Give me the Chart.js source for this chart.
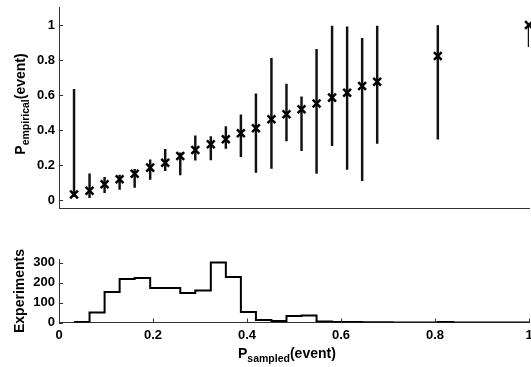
<!DOCTYPE html>
<html>
<head>
<meta charset="utf-8">
<script src="https://cdn.jsdelivr.net/npm/chart.js@4.4.1/dist/chart.umd.min.js"></script>
<style>
    body { margin: 0; background: #fff; font-family: 'Liberation Sans', Arial, sans-serif; }
    #wrap { position: relative; width: 531px; height: 367px; overflow: hidden; }
    canvas { position: absolute; left: 0; }
    #topChart { top: 0; }
    #histChart { top: 250px; }
    .axis-title { position: absolute; font-weight: bold; font-size: 14px; color: #000; white-space: nowrap; line-height: 1; }
    .axis-title sub { font-size: 10.5px; vertical-align: -4px; }
    .rot { transform-origin: center center; transform: translate(-50%, -50%) rotate(-90deg); }
</style>
</head>
<body>
<div id="wrap">
    <canvas id="topChart" width="531" height="215"></canvas>
    <canvas id="histChart" width="531" height="117"></canvas>
    <div class="axis-title rot" style="left:22px; top:104px;">P<sub>empirical</sub>(event)</div>
    <div class="axis-title rot" style="left:19px; top:291px;">Experiments</div>
    <div class="axis-title" style="left:238px; top:346px;">P<sub>sampled</sub>(event)</div>
</div>
<script>
// bin centres where points were sampled
const pointX = [0.032, 0.065, 0.097, 0.129, 0.161, 0.194, 0.226, 0.258, 0.290, 0.323, 0.355,
    0.387, 0.419, 0.452, 0.484, 0.516, 0.548, 0.581, 0.613, 0.645, 0.677, 0.806, 1.0];
const pointMean = [0.032, 0.053, 0.09, 0.118, 0.15, 0.185, 0.213, 0.251, 0.286, 0.318, 0.347,
    0.381, 0.41, 0.461, 0.49, 0.518, 0.552, 0.585, 0.613, 0.651, 0.676, 0.823, 1.0];
const pointLow = [0.02, 0.013, 0.042, 0.061, 0.072, 0.118, 0.168, 0.143, 0.227, 0.229, 0.295,
    0.248, 0.158, 0.181, 0.337, 0.282, 0.152, 0.31, 0.175, 0.11, 0.324, 0.347, 0.876];
const pointHigh = [0.632, 0.149, 0.13, 0.143, 0.175, 0.229, 0.29, 0.27, 0.366, 0.362, 0.419,
    0.486, 0.606, 0.81, 0.663, 0.59, 0.861, 0.994, 0.99, 0.924, 0.994, 0.996, 1.0];

// histogram of experiments
const histX = [0.032, 0.065, 0.097, 0.129, 0.161, 0.194, 0.226, 0.258, 0.290, 0.323, 0.355,
    0.387, 0.419, 0.452, 0.484, 0.516, 0.548, 0.581, 0.613, 0.645, 0.677, 0.710, 0.742, 0.774,
    0.806, 0.839, 0.871, 0.903, 0.935, 0.968, 1.0];
const histCount = [3, 50, 153, 217, 223, 173, 173, 147, 160, 300, 227,
    52, 12, 7, 32, 35, 5, 2, 2, 1, 1, 0, 0, 0,
    2, 0, 0, 0, 0, 0, 1];

const xTicks = [0, 0.2, 0.4, 0.6, 0.8, 1];
const topYTicks = [0, 0.2, 0.4, 0.6, 0.8, 1];
const histYTicks = [0, 100, 200, 300];

const axisColor = '#333';
const tickFont = { family: "'Liberation Sans', Arial, sans-serif", size: 13, weight: 'bold' };

Chart.defaults.color = '#000';

// MATLAB style ticks pointing into the plot
const innerTicks = {
    id: 'innerTicks',
    afterDraw(chart, args, opts) {
        const { ctx, chartArea } = chart;
        ctx.save();
        ctx.strokeStyle = axisColor;
        ctx.lineWidth = 1;
        ctx.beginPath();
        chart.scales.y.ticks.forEach(t => {
            const py = Math.round(chart.scales.y.getPixelForValue(t.value)) + 0.5;
            ctx.moveTo(chartArea.left, py);
            ctx.lineTo(chartArea.left + 4, py);
        });
        if (opts.xTicks) {
            chart.scales.x.ticks.forEach(t => {
                const px = Math.round(chart.scales.x.getPixelForValue(t.value)) + 0.5;
                ctx.moveTo(px, chartArea.bottom);
                ctx.lineTo(px, chartArea.bottom - 4);
            });
        }
        ctx.stroke();
        ctx.restore();
    }
};

function fixedTicks(list) {
    return scale => { scale.ticks = list.map(v => ({ value: v })); };
}

function noPad(s) {
    s.paddingLeft = 0;
    s.paddingRight = 0;
    s.paddingTop = 0;
    s.paddingBottom = 0;
}

const noGrid = { display: false, drawTicks: false };

new Chart(document.getElementById('topChart'), {
    type: 'scatter',
    data: {
        datasets: [
            {
                type: 'bar',
                data: pointX.map((x, i) => ({ x: x, y: [pointLow[i], pointHigh[i]] })),
                backgroundColor: '#111',
                barThickness: 1.8,
                grouped: false,
                order: 2
            },
            {
                type: 'scatter',
                data: pointX.map((x, i) => ({ x: x, y: pointMean[i] })),
                pointStyle: 'crossRot',
                pointRadius: 5.5,
                borderWidth: 2.5,
                borderColor: '#000',
                clip: 10,
                order: 1
            }
        ]
    },
    options: {
        responsive: false,
        animation: false,
        devicePixelRatio: 1,
        layout: { autoPadding: false, padding: { top: 7.5, bottom: 6.25, left: 0, right: 2 } },
        plugins: { legend: { display: false }, tooltip: { enabled: false }, innerTicks: { xTicks: false } },
        scales: {
            x: {
                type: 'linear', min: 0, max: 1, offset: false,
                ticks: { display: false },
                grid: noGrid,
                border: { color: axisColor },
                afterFit: s => { s.height = 0; noPad(s); }
            },
            y: {
                min: -0.05, max: 1.1,
                afterBuildTicks: fixedTicks(topYTicks),
                ticks: { font: tickFont, padding: 4, color: '#000', callback: v => String(v) },
                grid: noGrid,
                border: { color: axisColor },
                afterFit: s => { s.width = 59; noPad(s); }
            }
        }
    },
    plugins: [innerTicks]
});

new Chart(document.getElementById('histChart'), {
    type: 'line',
    data: {
        datasets: [{
            data: histX.map((x, i) => ({ x: x, y: histCount[i] })),
            stepped: 'before',
            borderColor: '#000',
            borderWidth: 2,
            pointRadius: 0,
            fill: false
        }]
    },
    options: {
        responsive: false,
        animation: false,
        devicePixelRatio: 1,
        layout: { autoPadding: false, padding: { top: 9.5, bottom: 0, left: 0, right: 2 } },
        plugins: { legend: { display: false }, tooltip: { enabled: false }, innerTicks: { xTicks: true } },
        scales: {
            x: {
                type: 'linear', min: 0, max: 1,
                afterBuildTicks: fixedTicks(xTicks),
                ticks: { font: tickFont, padding: 5, color: '#000', maxRotation: 0, callback: v => String(v) },
                grid: noGrid,
                border: { color: axisColor },
                afterFit: s => { s.height = 44.5; noPad(s); }
            },
            y: {
                min: 0, max: 315,
                afterBuildTicks: fixedTicks(histYTicks),
                ticks: { font: tickFont, padding: 4, color: '#000', callback: v => String(v) },
                grid: noGrid,
                border: { color: axisColor },
                afterFit: s => { s.width = 59; noPad(s); }
            }
        }
    },
    plugins: [innerTicks]
});
</script>
</body>
</html>
